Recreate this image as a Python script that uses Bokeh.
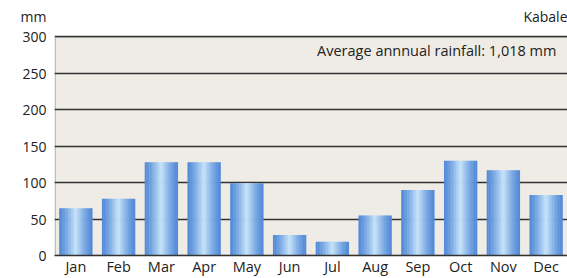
from bokeh.plotting import figure
from bokeh.models import ColumnDataSource, FixedTicker, Label, Range1d, BoxAnnotation
from bokeh.transform import dodge
from bokeh.embed import file_html
from bokeh.resources import INLINE

months = ["Jan", "Feb", "Mar", "Apr", "May", "Jun", "Jul", "Aug", "Sep", "Oct", "Nov", "Dec"]
rainfall = [65, 78, 128, 128, 99, 28, 19, 55, 90, 130, 117, 83]
y_ticks = [0, 50, 100, 150, 200, 250, 300]
y_max = 300
unit_label = "mm"
station = "Kabale"
annual_note = "Average annnual rainfall: 1,018 mm"

FONT = "Open Sans"
TXT = "#222222"
LINE = "#333333"

source = ColumnDataSource(data=dict(months=months, rainfall=rainfall))

p = figure(x_range=months, y_range=Range1d(0, 350), width=567, height=278,
           output_backend="svg", toolbar_location=None,
           min_border_left=54, min_border_right=0, min_border_top=0, min_border_bottom=0)
p.background_fill_color = "white"
p.border_fill_color = "white"
p.outline_line_color = None

# beige plotting panel from 0 to 300 mm, with left/top/bottom frame lines
panel = BoxAnnotation(left=0.015, right=12.5, bottom=0, top=y_max,
                      fill_color="#efece6", fill_alpha=1.0,
                      line_color=LINE, line_width=1.4, level="image")
p.add_layout(panel)

# gradient bars built from narrow overlapping strips
bar_w = 0.77
n = 22
edge = (82, 138, 216)
mid = (200, 229, 251)
strip = bar_w / n
for i in range(n):
    t = (i + 0.5) / n
    k = 1 - abs(t - 0.5) * 2
    k = k ** 1.3
    c = tuple(int(edge[j] + (mid[j] - edge[j]) * k) for j in range(3))
    col = "#%02x%02x%02x" % c
    off = -bar_w / 2 + (i + 0.5) * strip
    p.vbar(x=dodge("months", off, range=p.x_range), top="rainfall", width=strip * 1.3,
           source=source, fill_color=col, line_color=None)

p.xgrid.grid_line_color = None
p.ygrid.ticker = FixedTicker(ticks=y_ticks)
p.ygrid.grid_line_color = LINE
p.ygrid.grid_line_width = 1.3
p.ygrid.level = "underlay"

unit_pos = 328
p.yaxis.ticker = FixedTicker(ticks=y_ticks + [unit_pos])
p.yaxis.major_label_overrides = {unit_pos: unit_label}
p.yaxis.axis_line_color = None
p.yaxis.major_tick_line_color = None
p.yaxis.major_tick_out = 0
p.yaxis.minor_tick_line_color = None
p.yaxis.major_label_text_font = FONT
p.yaxis.major_label_text_font_size = "14px"
p.yaxis.major_label_text_color = TXT
p.yaxis.major_label_standoff = 8

p.xaxis.axis_line_color = LINE
p.xaxis.axis_line_width = 1.4
p.xaxis.major_tick_line_color = None
p.xaxis.major_tick_out = 0
p.xaxis.major_label_text_font = FONT
p.xaxis.major_label_text_font_size = "14.5px"
p.xaxis.major_label_text_color = TXT
p.xaxis.major_label_standoff = 1

p.add_layout(Label(x=12.0, y=unit_pos, text=station,
                   text_font=FONT, text_font_size="14px", text_color=TXT,
                   text_align="right", text_baseline="middle"))
p.add_layout(Label(x=11.74, y=281, text=annual_note,
                   text_font=FONT, text_font_size="14.5px", text_color=TXT,
                   text_align="right", text_baseline="middle"))

open("out.html", "w").write(file_html(p, INLINE))
